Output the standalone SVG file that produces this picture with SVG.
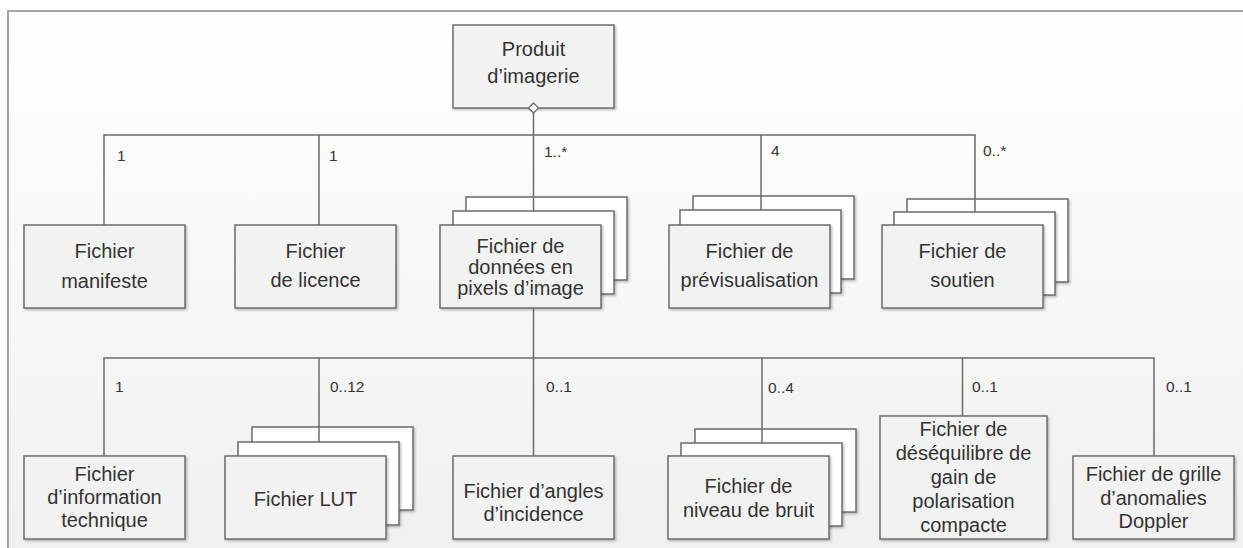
<svg xmlns="http://www.w3.org/2000/svg" width="1243" height="548" viewBox="0 0 1243 548">
<defs>
<linearGradient id="bg" x1="0" y1="0" x2="0" y2="1">
<stop offset="0" stop-color="#ffffff"/>
<stop offset="1" stop-color="#eeeeee"/>
</linearGradient>
<filter id="sh" x="-10%" y="-10%" width="130%" height="130%">
<feDropShadow dx="1.5" dy="1.5" stdDeviation="1" flood-color="#000" flood-opacity="0.25"/>
</filter>
</defs>
<style>
.box{fill:#f2f2f2;stroke:#6b6b6b;stroke-width:1.5;filter:url(#sh)}
.layer{fill:#ffffff;stroke:#6b6b6b;stroke-width:1.5;filter:url(#sh)}
.t{font-family:"Liberation Sans",Arial,sans-serif;font-size:20px;fill:#333333;text-anchor:middle}
.lbl{font-family:"Liberation Sans",Arial,sans-serif;font-size:15.5px;fill:#333333}
.ln{stroke:#6b6b6b;stroke-width:1.5;fill:none}
</style>
<rect x="0" y="0" width="1243" height="548" fill="#ffffff"/>
<rect x="8" y="11" width="1300" height="600" fill="url(#bg)" stroke="#a3a3a3" stroke-width="2"/>

<g id="produit">
<rect class="box" x="453" y="25" width="161" height="83"/>
<text class="t" x="533.5" y="56">Produit</text>
<text class="t" x="533.5" y="83">d’imagerie</text>
</g>

<g id="manifeste">
<rect class="box" x="24" y="225" width="161" height="83"/>
<text class="t" x="104.5" y="258">Fichier</text>
<text class="t" x="104.5" y="288">manifeste</text>
</g>

<g id="licence">
<rect class="box" x="235" y="225" width="161" height="83"/>
<text class="t" x="315.5" y="258">Fichier</text>
<text class="t" x="315.5" y="287">de licence</text>
</g>

<g id="donnees">
<rect class="layer" x="466" y="197" width="161" height="83"/>
<rect class="layer" x="453" y="211" width="161" height="83"/>
<rect class="box" x="440" y="225" width="161" height="83"/>
<text class="t" x="520.5" y="253">Fichier de</text>
<text class="t" x="520.5" y="274">données en</text>
<text class="t" x="520.5" y="295">pixels d’image</text>
</g>

<g id="previsualisation">
<rect class="layer" x="693" y="196" width="161" height="83"/>
<rect class="layer" x="680" y="210" width="161" height="83"/>
<rect class="box" x="669" y="225" width="161" height="83"/>
<text class="t" x="749.5" y="258">Fichier de</text>
<text class="t" x="749.5" y="287">prévisualisation</text>
</g>

<g id="soutien">
<rect class="layer" x="907" y="199" width="161" height="83"/>
<rect class="layer" x="894" y="212" width="161" height="83"/>
<rect class="box" x="882" y="225" width="161" height="83"/>
<text class="t" x="962.5" y="258">Fichier de</text>
<text class="t" x="962.5" y="287">soutien</text>
</g>

<g id="information">
<rect class="box" x="24" y="456" width="161" height="83"/>
<text class="t" x="104.5" y="481">Fichier</text>
<text class="t" x="104.5" y="504">d’information</text>
<text class="t" x="104.5" y="527">technique</text>
</g>

<g id="lut">
<rect class="layer" x="252" y="427" width="161" height="83"/>
<rect class="layer" x="238" y="442" width="161" height="83"/>
<rect class="box" x="225" y="456" width="161" height="83"/>
<text class="t" x="305.5" y="506">Fichier LUT</text>
</g>

<g id="angles">
<rect class="box" x="453" y="456" width="161" height="83"/>
<text class="t" x="533.5" y="498">Fichier d’angles</text>
<text class="t" x="533.5" y="521">d’incidence</text>
</g>

<g id="bruit">
<rect class="layer" x="695" y="429" width="161" height="83"/>
<rect class="layer" x="681" y="443" width="161" height="83"/>
<rect class="box" x="668" y="456" width="161" height="83"/>
<text class="t" x="748.5" y="493">Fichier de</text>
<text class="t" x="748.5" y="517">niveau de bruit</text>
</g>

<g id="desequilibre">
<rect class="box" x="880" y="416" width="167" height="123"/>
<text class="t" x="963.5" y="436">Fichier de</text>
<text class="t" x="963.5" y="460">déséquilibre de</text>
<text class="t" x="963.5" y="484">gain de</text>
<text class="t" x="963.5" y="508">polarisation</text>
<text class="t" x="963.5" y="532">compacte</text>
</g>

<g id="doppler">
<rect class="box" x="1073" y="456" width="161" height="83"/>
<text class="t" x="1153.5" y="481">Fichier de grille</text>
<text class="t" x="1153.5" y="505">d’anomalies</text>
<text class="t" x="1153.5" y="528">Doppler</text>
</g>

<g id="connectors">
<path class="ln" d="M533.5 113V211"/>
<path class="ln" d="M104 225V135H975V212"/>
<path class="ln" d="M319 135V225"/>
<path class="ln" d="M761 135V210"/>
<path d="M533.5 103L538.5 108L533.5 113L528.5 108Z" fill="#ffffff" stroke="#6b6b6b" stroke-width="1.3"/>
<path class="ln" d="M533.5 308V456"/>
<path class="ln" d="M104 456V358H1154V456"/>
<path class="ln" d="M319 358V442"/>
<path class="ln" d="M762 358V443"/>
<path class="ln" d="M962.5 358V416"/>
<text class="lbl" x="117" y="161">1</text>
<text class="lbl" x="329" y="161">1</text>
<text class="lbl" x="544" y="157">1..*</text>
<text class="lbl" x="771" y="156">4</text>
<text class="lbl" x="983" y="156">0..*</text>
<text class="lbl" x="115" y="392">1</text>
<text class="lbl" x="330" y="392">0..12</text>
<text class="lbl" x="546" y="392">0..1</text>
<text class="lbl" x="768" y="393">0..4</text>
<text class="lbl" x="972" y="392">0..1</text>
<text class="lbl" x="1166" y="392">0..1</text>
</g>
</svg>
